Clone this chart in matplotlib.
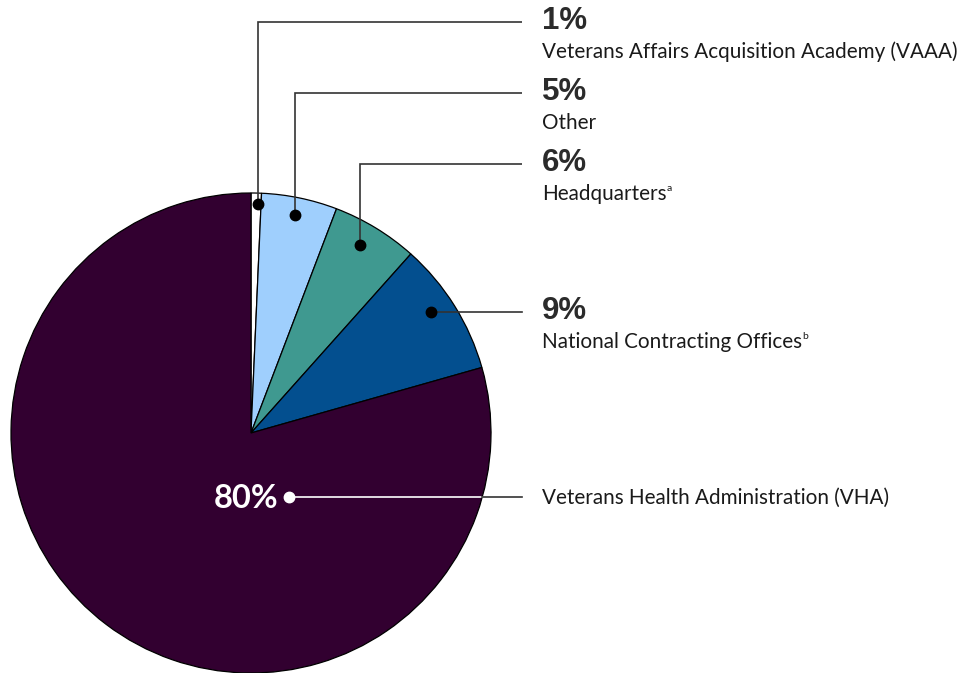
import numpy as np
import matplotlib
matplotlib.use("Agg")
import matplotlib.pyplot as plt

# ---- data ----
categories = ["Veterans Affairs Acquisition Academy (VAAA)", "Other", "Headquarters",
              "National Contracting Offices", "Veterans Health Administration (VHA)"]
superscripts = ["", "", "a", "b", ""]
shares = [0.7, 5.1, 5.8, 9.0, 79.4]
pct_labels = ["1%", "5%", "6%", "9%", "80%"]
colors = ["#FFFFFF", "#9FCFFD", "#3F9990", "#034F8F", "#320030"]

W, H = 978, 673
fig = plt.figure(figsize=(W / 100, H / 100), dpi=100)
ax = fig.add_axes([0, 0, 1, 1])

cx, cy, R = 251, H - 433, 240
wedges, _ = ax.pie(shares, colors=colors, startangle=90, counterclock=False,
                   center=(cx, cy), radius=R,
                   wedgeprops=dict(edgecolor="black", linewidth=0.9))
ax.set_xlim(0, W)
ax.set_ylim(0, H)
ax.set_aspect("equal")
ax.axis("off")

line_col = "#333333"
text_x = 542
line_end = 522
# label rows (pixel y from top) for the percentage text lines
row_y = [22, 93, 164, 312, 498]
# anchor dots: clockwise angle from 12 o'clock and radius fraction
anchor_ang = [1.75, 11.4, 30.1, 56.2, 149.7]
rfrac = [0.955, 0.925, 0.905, 0.905, 0.31]

for i, w in enumerate(wedges):
    ang = np.deg2rad(90 - anchor_ang[i])
    px = cx + R * rfrac[i] * np.cos(ang)
    py = cy + R * rfrac[i] * np.sin(ang)
    ly = H - row_y[i]
    if i < 3:
        ax.plot([px, px, line_end], [py, ly, ly], color=line_col, lw=1.2,
                solid_capstyle="butt", solid_joinstyle="miter")
        ax.plot(px, py, "o", color="black", ms=7.5)
    elif i == 3:
        ax.plot([px, line_end], [py, py], color=line_col, lw=1.2)
        ax.plot(px, py, "o", color="black", ms=7.5)
    else:
        edge_x = cx + np.sqrt(R ** 2 - (py - cy) ** 2)
        ax.plot([px, edge_x], [py, py], color="white", lw=1.2)
        ax.plot([edge_x, line_end], [py, py], color=line_col, lw=1.2)
        ax.plot(px, py, "o", color="white", ms=7.5)

fig.canvas.draw()
renderer = fig.canvas.get_renderer()

for i in range(5):
    ly = H - row_y[i]
    if i < 4:
        ax.text(text_x, ly + 1, pct_labels[i], fontsize=22.5, fontweight="bold",
                family="Liberation Sans", color="#2b2b2b", va="center", ha="left")
        name_y = ly - 30
    else:
        ax.text(278, ly, pct_labels[i], fontsize=23.5, fontweight="bold",
                family="Lato", color="white", va="center", ha="right")
        name_y = ly
    t = ax.text(text_x, name_y, categories[i], fontsize=14.9, family="Lato",
                color="#1a1a1a", va="center", ha="left")
    if superscripts[i]:
        bb = t.get_window_extent(renderer)
        ax.text(bb.x1 + 0.5, name_y + 5, superscripts[i], fontsize=7.5, family="Lato",
                color="#1a1a1a", va="center", ha="left")

fig.savefig("out.png", dpi=100)
